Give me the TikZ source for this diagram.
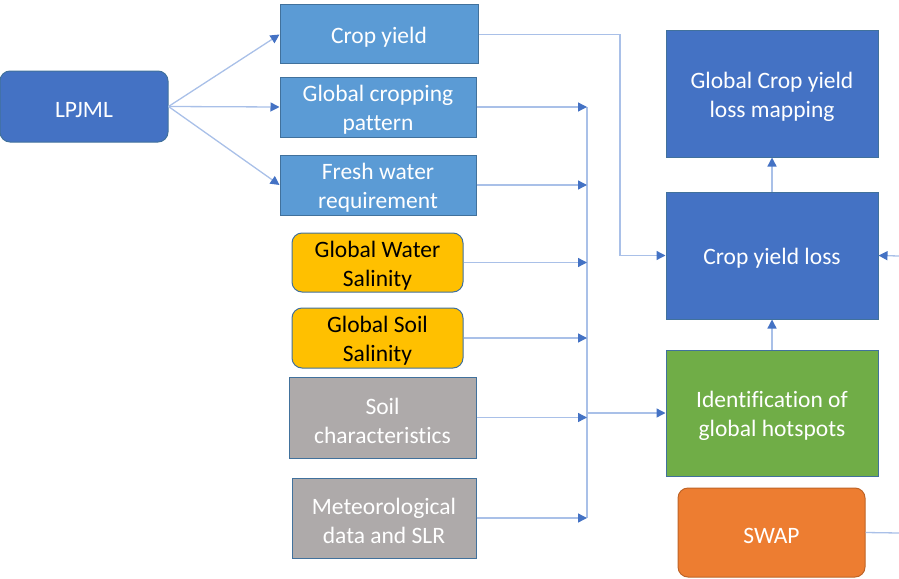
\documentclass[tikz,border=0pt]{standalone}
\usepackage{fontspec}
\setmainfont[Ligatures={NoCommon}]{Carlito}
\usetikzlibrary{arrows.meta,positioning,calc}
\definecolor{dblue}{HTML}{4472C4}
\definecolor{lblue}{HTML}{5B9BD5}
\definecolor{bord}{HTML}{41719C}
\definecolor{ylw}{HTML}{FFC000}
\definecolor{gry}{HTML}{AEAAAA}
\definecolor{grn}{HTML}{70AD47}
\definecolor{org}{HTML}{ED7D31}
\definecolor{lnc}{HTML}{A9C0E8}
\newcommand{\tstrut}{\rule{0pt}{22.5pt}}
\begin{document}
\begin{tikzpicture}[x=1pt,y=-1pt,
  box/.style={draw=bord,line width=1pt,text=white,align=center,inner sep=0pt,
    font=\fontsize{23.5}{29}\selectfont},
  rbox/.style={box,rounded corners=10pt},
  conn/.style={draw=lnc,line width=1.3pt},
  arr/.style={conn,-{Triangle[length=9pt,width=9pt,color=dblue,fill=dblue]}}]
\useasboundingbox (0,0) rectangle (899,578);
% nodes
\node[rbox,fill=dblue,draw=bord,minimum width=168pt,minimum height=71pt] (lpj) at (84,106.5) {\tstrut LPJML};
\node[box,fill=lblue,minimum width=198pt,minimum height=59pt] (cy) at (379,34.5) {\tstrut Crop yield};
\node[box,fill=lblue,minimum width=196pt,minimum height=60pt] (gcp) at (378,107) {\tstrut Global cropping\\pattern};
\node[box,fill=lblue,minimum width=196pt,minimum height=60pt] (fwr) at (378,185) {\tstrut Fresh water\\requirement};
\node[rbox,fill=ylw,text=black,minimum width=171pt,minimum height=59pt] (gws) at (377.5,262.5) {\tstrut Global Water\\Salinity};
\node[rbox,fill=ylw,text=black,minimum width=171pt,minimum height=60pt] (gss) at (377.5,338) {\tstrut Global Soil\\Salinity};
\node[box,fill=gry,minimum width=187pt,minimum height=81pt] (soil) at (382.5,417.5) {\tstrut Soil\\characteristics};
\node[box,fill=gry,minimum width=184pt,minimum height=80pt] (met) at (384,518) {\tstrut Meteorological\\data and SLR};
\node[box,fill=dblue,draw=bord,minimum width=212pt,minimum height=126pt] (map) at (772,94) {\tstrut Global Crop yield\\loss mapping};
\node[box,fill=dblue,draw=bord,minimum width=212pt,minimum height=127pt] (cyl) at (772,255.5) {\tstrut Crop yield loss};
\node[box,fill=grn,draw=bord,minimum width=212pt,minimum height=126pt] (hot) at (772,413) {\tstrut Identification of\\global hotspots};
\node[rbox,fill=org,draw=org!80!black,minimum width=187pt,minimum height=89pt] (swap) at (771.5,532.5) {\tstrut SWAP};
% helper coordinates
\coordinate (bustop) at (587,107);
\coordinate (busbot) at (587,518);
\coordinate (busmid) at (587,413);
\coordinate (ra) at (899,256);
\coordinate (rb) at (899,533);
% connectors
\draw[arr] (lpj.east) -- (cy.west);
\draw[arr] (lpj.east) -- (gcp.west);
\draw[arr] (lpj.east) -- (fwr.west);
\draw[arr] (cy.east) -- (620,34.5) |- (cyl.west);
\draw[conn] (bustop) -- (busbot);
\draw[arr] (gcp.east) -- (gcp.east -| bustop);
\draw[arr] (fwr.east) -- (fwr.east -| bustop);
\draw[arr] (gws.east) -- (gws.east -| bustop);
\draw[arr] (gss.east) -- (gss.east -| bustop);
\draw[arr] (soil.east) -- (soil.east -| bustop);
\draw[arr] (met.east) -- (met.east -| bustop);
\draw[arr] (busmid) -- (hot.west);
\draw[arr] (cyl.north) -- (map.south);
\draw[arr] (hot.north) -- (cyl.south);
\draw[arr] (ra) -- (cyl.east);
\draw[conn] (swap.east) -- (rb);
\end{tikzpicture}
\end{document}
